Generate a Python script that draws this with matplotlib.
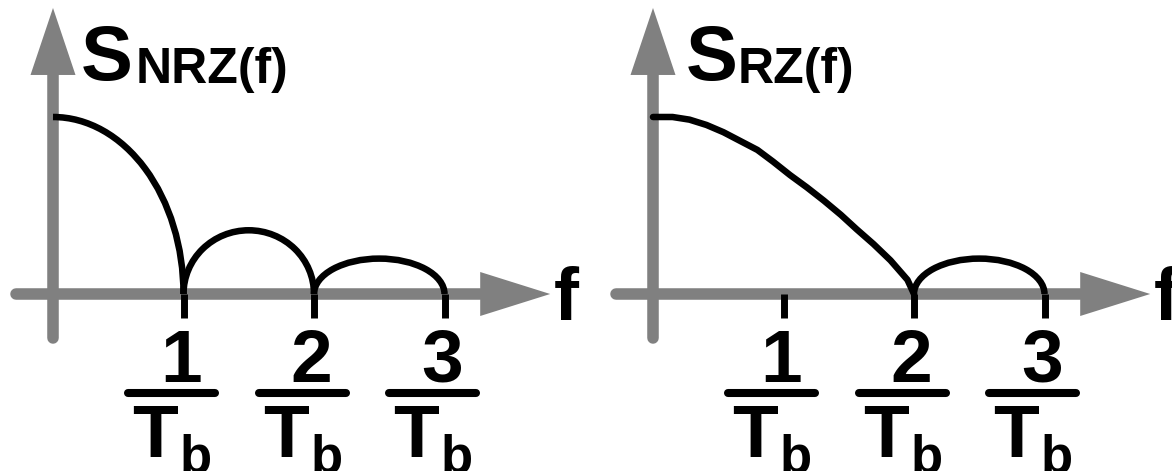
# -*- coding: utf-8 -*-

import numpy as np
import matplotlib.pyplot as plt
from matplotlib.patches import Arc

plt.rcParams['font.family'] = ['Liberation Sans', 'DejaVu Sans']
plt.rcParams['font.weight'] = 'bold'

# ---- data (frequency in units of 1/Tb, spectrum relative to S(0)) ----
f_ticks = [1, 2, 3]
tick_nums = ['1', '2', '3']

nrz_nulls = [0, 1, 2, 3]          # lobe edges of S_NRZ
nrz_peaks = [1.0, 0.36, 0.20]     # lobe heights

rz_main_f = [0, 0.15, 0.28, 0.41, 0.54, 0.67, 0.80, 0.92, 1.05,
             1.18, 1.31, 1.44, 1.56, 1.69, 1.82, 1.95, 2.0]
rz_main_s = [1.0, 1.0, 0.985, 0.955, 0.914, 0.864, 0.814, 0.748, 0.672,
             0.602, 0.527, 0.447, 0.366, 0.282, 0.190, 0.080, 0.0]
rz_side_nulls = [2, 3]
rz_side_peak = 0.20

# ---- layout (pixels) ----
W, H = 1172, 471
UX, UY = 130.5, 177.0   # px per unit
Y0 = 294                # px from top of f axis
GRAY = '#808080'
LW_AX = 8.3
LW_CURVE = 4.7


def make_axes(fig, left_px, width_px, origin_px):
    ax = fig.add_axes([left_px / W, 0, width_px / W, 1])
    ax.set_xlim(-origin_px / UX, (width_px - origin_px) / UX)
    ax.set_ylim((Y0 - H) / UY, Y0 / UY)
    ax.set_axis_off()
    return ax


def axis_arrows(ax):
    x0, xtip = -0.28, 3.81
    y0, ytip = -0.25, 1.616
    hl_x, hw_x = 70 / UX, 22 / UY
    hl_y, hw_y = 67 / UY, 22.5 / UX
    ax.plot([x0, xtip - hl_x], [0, 0], color=GRAY, lw=LW_AX, solid_capstyle='round', zorder=1)
    ax.fill([xtip - hl_x, xtip, xtip - hl_x], [hw_x, 0, -hw_x], color=GRAY, lw=0, zorder=1)
    ax.plot([0, 0], [y0, ytip - hl_y], color=GRAY, lw=LW_AX, solid_capstyle='round', zorder=1)
    ax.fill([-hw_y, 0, hw_y], [ytip - hl_y, ytip, ytip - hl_y], color=GRAY, lw=0, zorder=1)
    ax.text(xtip + 4 / UX, -0.147, 'f', ha='left', va='baseline', fontsize=54)


def freq_labels(ax):
    for k, num in zip(f_ticks, tick_nums):
        ax.plot([k, k], [0, -0.136], color='black', lw=5, solid_capstyle='butt', zorder=3)
        ax.text(k - 0.02, -0.497, num, ha='center', va='baseline', fontsize=54)
        c = k - 0.09
        ax.plot([c - 0.333, c + 0.333], [-0.56, -0.56], color='black', lw=5.8,
                solid_capstyle='round')
        ax.text(c - 0.30, -0.921, 'T', ha='left', va='baseline', fontsize=54)
        ax.text(c + 0.06, -1.006, 'b', ha='left', va='baseline', fontsize=38)


def lobe(ax, a, b, peak, half=False):
    if half:
        arc = Arc((a, 0), 2 * (b - a), 2 * peak, theta1=0, theta2=90,
                  lw=LW_CURVE, color='black', zorder=3)
    else:
        arc = Arc(((a + b) / 2, 0), b - a, 2 * peak, theta1=0, theta2=180,
                  lw=LW_CURVE, color='black', zorder=3)
    ax.add_patch(arc)


fig = plt.figure(figsize=(W / 100, H / 100), dpi=100)

# left panel: NRZ
ax1 = make_axes(fig, 0, 586, 53)
axis_arrows(ax1)
freq_labels(ax1)
for i in range(len(nrz_peaks)):
    lobe(ax1, nrz_nulls[i], nrz_nulls[i + 1], nrz_peaks[i], half=(i == 0))
ax1.text(0.21, 1.209, 'S', ha='left', va='baseline', fontsize=56)
ax1.text(0.63, 1.192, 'NRZ(f)', ha='left', va='baseline', fontsize=36)

# right panel: RZ
ax2 = make_axes(fig, 586, 586, 67)
axis_arrows(ax2)
freq_labels(ax2)
ax2.plot(rz_main_f, rz_main_s, color='black', lw=LW_CURVE, solid_capstyle='round',
         solid_joinstyle='round', zorder=3)
lobe(ax2, rz_side_nulls[0], rz_side_nulls[1], rz_side_peak)
ax2.text(0.25, 1.209, 'S', ha='left', va='baseline', fontsize=56)
ax2.text(0.65, 1.192, 'RZ(f)', ha='left', va='baseline', fontsize=36)

fig.savefig('out.png', dpi=100, facecolor='white')
